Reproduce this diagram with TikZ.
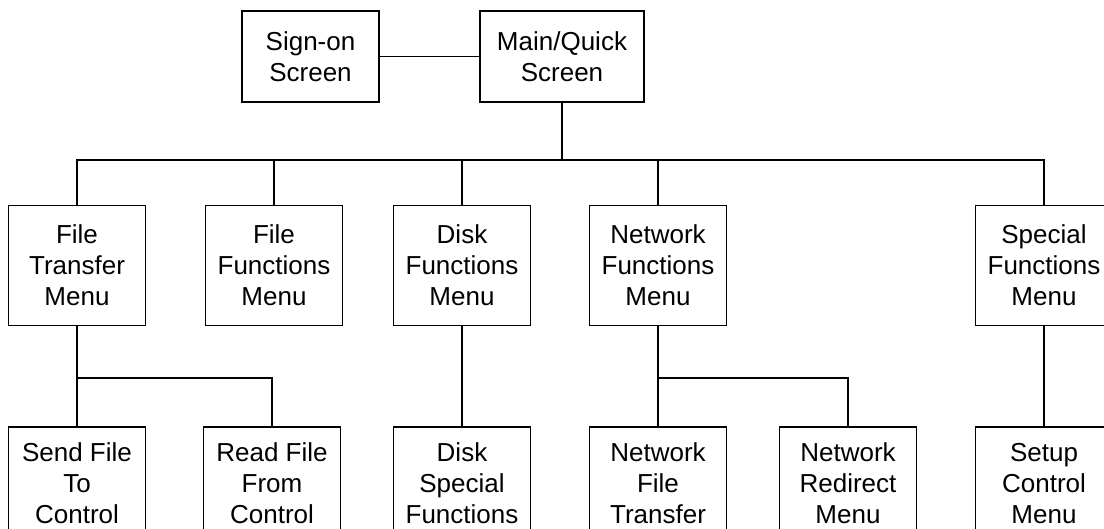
\documentclass[tikz,border=0pt]{standalone}
\usepackage{fontspec}
\setmainfont{Liberation Sans}
\begin{document}
\begin{tikzpicture}[x=1pt,y=-1pt,line width=1.5pt]
        \useasboundingbox (0,0) rectangle (1104,529);
        \begin{scope}[every node/.style={rectangle,draw,align=center,inner sep=0pt,
                    minimum width=137pt,minimum height=120pt,
                    font=\fontsize{26}{31}\selectfont}]
            \node (S) at (310.5,56.5) [minimum height=91pt] {Sign-on\\Screen};
            \node (M) at (562,56.5) [minimum width=164pt,minimum height=91pt] {Main/Quick\\Screen};

            \node (FT) at (77,265.5) {File\\Transfer\\Menu};
            \node (FF) at (274,265.5) {File\\Functions\\Menu};
            \node (DM) at (462,265.5) {Disk\\Functions\\Menu};
            \node (NM) at (658,265.5) {Network\\Functions\\Menu};
            \node (SM) at (1044,265.5) {Special\\Functions\\Menu};

            \node (SF) at (77,483.5) [minimum height=113pt] {Send File\\To\\Control};
            \node (RF) at (272,483.5) [minimum height=113pt] {Read File\\From\\Control};
            \node (DS) at (462,483.5) [minimum height=113pt] {Disk\\Special\\Functions};
            \node (NF) at (658,483.5) [minimum height=113pt] {Network\\File\\Transfer};
            \node (NR) at (848,483.5) [minimum height=113pt] {Network\\Redirect\\Menu};
            \node (SC) at (1044,483.5) [minimum height=113pt] {Setup\\Control\\Menu};
        \end{scope}

        \coordinate (B) at (562,160);
        \coordinate (J1) at (77,378);
        \coordinate (J2) at (658,378);

        \path [-] (S) edge (M);
        \path [-] (M) edge (B);
        \foreach \n in {FT,FF,DM,NM,SM}
            \draw (B) -| (\n);

        \path [-] (FT) edge (SF);
        \draw (J1) -| (RF);
        \path [-] (DM) edge (DS);
        \path [-] (NM) edge (NF);
        \draw (J2) -| (NR);
        \path [-] (SM) edge (SC);
    \end{tikzpicture}
\end{document}
